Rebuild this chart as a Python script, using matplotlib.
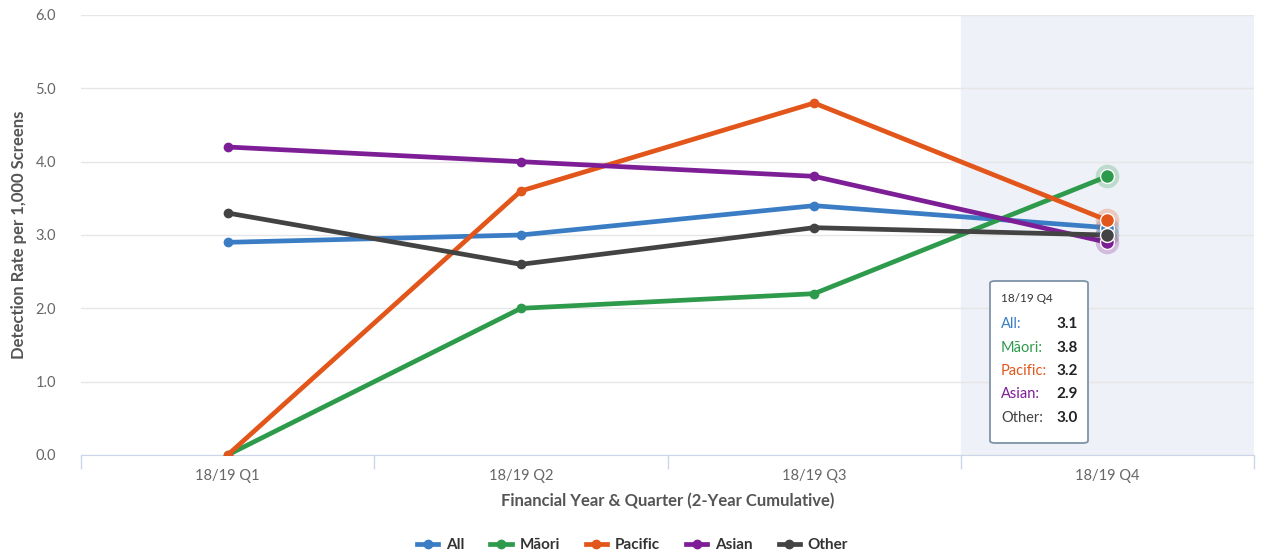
import matplotlib.pyplot as plt
from matplotlib.patches import FancyBboxPatch
from matplotlib.lines import Line2D

plt.rcParams['font.family'] = ['Lato', 'DejaVu Sans']

quarters = ['18/19 Q1', '18/19 Q2', '18/19 Q3', '18/19 Q4']
series_names = ['All', 'Māori', 'Pacific', 'Asian', 'Other']
all_rate = [2.9, 3.0, 3.4, 3.1]
maori_rate = [0.0, 2.0, 2.2, 3.8]
pacific_rate = [0.0, 3.6, 4.8, 3.2]
asian_rate = [4.2, 4.0, 3.8, 2.9]
other_rate = [3.3, 2.6, 3.1, 3.0]
colors = ['#3a7dc4', '#2e9a4c', '#e2561b', '#7d1e97', '#434343']

series = [all_rate, maori_rate, pacific_rate, asian_rate, other_rate]

fig = plt.figure(figsize=(12.65, 5.59), dpi=100)
ax = fig.add_axes([81 / 1265, 1 - 455 / 559, (1254 - 81) / 1265, 440 / 559])

x = list(range(len(quarters)))
ax.set_xlim(-0.5, len(quarters) - 0.5)
ax.set_ylim(0, 6)

# hovered category band
ax.axvspan(2.5, 3.5, color='#eef1f7', zorder=0)

for vals, c in zip(series, colors):
    ax.plot(x, vals, color=c, lw=3.4, solid_capstyle='round', zorder=3)
    ax.plot(x[:-1], vals[:-1], 'o', color=c, ms=6, zorder=4)
    # hover halo on the last point
    ax.plot(x[-1], vals[-1], 'o', color=c, ms=17, alpha=0.25, mec='none', zorder=4)
    ax.plot(x[-1], vals[-1], 'o', color=c, ms=10, mec='white', mew=1, zorder=5)

ax.set_yticks([0, 1, 2, 3, 4, 5, 6])
ax.set_yticklabels([f'{v:.1f}' for v in range(7)], color='#666666', fontsize=10.5)
ax.grid(axis='y', color='#e6e6e6', lw=1)
ax.set_axisbelow(True)
ax.tick_params(axis='y', length=0, pad=18)

ax.set_xticks(x)
ax.set_xticklabels(quarters, color='#666666', fontsize=10.5)
ax.set_xticks([-0.5, 0.5, 1.5, 2.5, 3.5], minor=True)
ax.tick_params(axis='x', which='major', length=0, pad=10)
ax.tick_params(axis='x', which='minor', length=10, color='#ccd6eb', width=1)

for s in ['top', 'right', 'left']:
    ax.spines[s].set_visible(False)
ax.spines['bottom'].set_color('#ccd6eb')

ax.set_ylabel('Detection Rate per 1,000 Screens', fontsize=12, fontweight='bold',
              color='#555555', labelpad=6)
ax.set_xlabel('Financial Year & Quarter (2-Year Cumulative)', fontsize=12,
              fontweight='bold', color='#555555', labelpad=7)

# tooltip for the hovered quarter
box = FancyBboxPatch((990 / 1265, 1 - 443 / 559), 98 / 1265, 162 / 559,
                     boxstyle='round,pad=0,rounding_size=0.004',
                     transform=fig.transFigure, facecolor='white',
                     edgecolor='#7f93a8', lw=1.3, zorder=10)
fig.patches.append(box)
fig.text(1001 / 1265, 1 - 299 / 559, quarters[-1], fontsize=8.5, color='#333333',
         va='center', zorder=11)
for i, (name, vals, c) in enumerate(zip(series_names, series, colors)):
    yy = 1 - (324 + i * 23.5) / 559
    fig.text(1001 / 1265, yy, name + ':', fontsize=10.5, color=c, va='center', zorder=11)
    fig.text(1078 / 1265, yy, f'{vals[-1]:.1f}', fontsize=11, color='#222222',
             fontweight='bold', va='center', ha='right', zorder=11)

handles = [Line2D([], [], color=c, lw=3.4, marker='o', ms=6) for c in colors]
fig.legend(handles, series_names, loc='center', bbox_to_anchor=(0.5, 1 - 545 / 559),
           ncol=5, frameon=False, handlelength=1.4, handletextpad=0.5,
           columnspacing=1.7, prop={'weight': 'bold', 'size': 11})
for t in fig.legends[0].get_texts():
    t.set_color('#333333')

fig.savefig('out.png', dpi=100)
